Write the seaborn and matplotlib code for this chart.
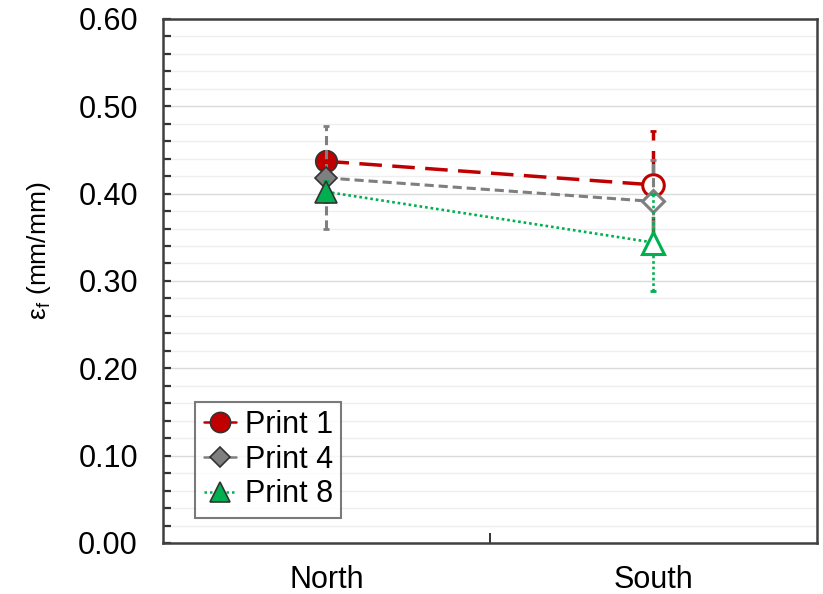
import numpy as np
import pandas as pd
import matplotlib
matplotlib.use("Agg")
import matplotlib.pyplot as plt
from matplotlib.lines import Line2D
import seaborn as sns

# ---- data ----
locations = ["North", "South"]
series_names = ["Print 1", "Print 4", "Print 8"]
print1_mean = [0.437, 0.410]
print1_err = [0.012, 0.062]
print4_mean = [0.418, 0.391]
print4_err = [0.059, 0.048]
print8_mean = [0.402, 0.344]
print8_err = [0.012, 0.056]
y_ticks = [0.00, 0.10, 0.20, 0.30, 0.40, 0.50, 0.60]

sns.set_theme(style="white")
plt.rcParams["font.family"] = ["Liberation Sans", "DejaVu Sans"]
plt.rcParams["mathtext.fontset"] = "custom"
plt.rcParams["mathtext.rm"] = "Liberation Sans"
plt.rcParams["text.color"] = "black"
plt.rcParams["axes.labelcolor"] = "black"

fig = plt.figure(figsize=(8.23, 5.94), dpi=100)
ax = fig.add_axes([0.198, 0.0859, 0.7947, 0.8822])

styles = {
    "Print 1": dict(color="#C00000", marker="o", ms=15.5, dash=(6.5, 3), lw=2.5),
    "Print 4": dict(color="#7F7F7F", marker="D", ms=11.5, dash=(3, 1.6), lw=2.2),
    "Print 8": dict(color="#00B050", marker="^", ms=15.5, dash=(1, 1.1), lw=1.9),
}
means = {"Print 1": print1_mean, "Print 4": print4_mean, "Print 8": print8_mean}
errs = {"Print 1": print1_err, "Print 4": print4_err, "Print 8": print8_err}

xpos = np.arange(len(locations))
rows = []
for name in series_names:
    for i, loc in enumerate(locations):
        rows.append(dict(series=name, x=xpos[i], location=loc,
                         value=means[name][i], err=errs[name][i]))
df = pd.DataFrame(rows)

# grid
for yv in np.arange(0.0, 0.6001, 0.02):
    major = abs(round(yv * 10) - yv * 10) < 1e-6
    ax.axhline(yv, color="#DADADA" if major else "#EFEFEF", lw=1.0, zorder=0)

z = 2
for name in series_names:
    st = styles[name]
    sub = df[df.series == name]
    sns.lineplot(data=sub, x="x", y="value", ax=ax, color=st["color"],
                 lw=st["lw"], dashes=False, legend=False, zorder=z, sort=False)
    ax.lines[-1].set_dashes(st["dash"])
    eb = ax.errorbar(sub["x"], sub["value"], yerr=sub["err"], fmt="none",
                     ecolor=st["color"], elinewidth=st["lw"], capsize=2.5,
                     capthick=2, zorder=z)
    eb[2][0].set_linestyle((0, st["dash"]))
    # North: filled, South: hollow
    ax.plot(sub["x"].iloc[[0]], sub["value"].iloc[[0]], linestyle="none",
            marker=st["marker"], ms=st["ms"], mfc=st["color"],
            mec="#333333", mew=1.2, zorder=z + 1)
    ax.plot(sub["x"].iloc[[1]], sub["value"].iloc[[1]], linestyle="none",
            marker=st["marker"], ms=st["ms"], mfc="white",
            mec=st["color"], mew=2.2, zorder=z + 1)
    z += 2

ax.set_xlim(-0.5, 1.5)
ax.set_ylim(0, 0.6)
ax.set_yticks(y_ticks)
ax.set_yticklabels([f"{v:.2f}" for v in y_ticks])
ax.set_yticks(np.arange(0, 0.6001, 0.02), minor=True)
ax.set_xticks(xpos)
ax.set_xticklabels(locations)
ax.set_xticks([0.5], minor=True)
ax.tick_params(axis="y", which="both", direction="in", length=6, width=1.6,
               color="#333333", labelsize=22, pad=18, left=True,
               labelcolor="black")
ax.tick_params(axis="x", which="major", length=0, labelsize=22, pad=16,
               labelcolor="black")
ax.tick_params(axis="x", which="minor", direction="in", length=7, width=1.4,
               color="#333333", bottom=True)
for sp in ax.spines.values():
    sp.set_color("#404040")
    sp.set_linewidth(1.8)
    sp.set_visible(True)

ax.set_xlabel("")
ax.set_ylabel("ε$_\\mathregular{f}$ (mm/mm)", fontsize=19)
ax.yaxis.set_label_coords(-0.168, 0.557)

handles = []
for name in series_names:
    st = styles[name]
    handles.append(Line2D([], [], color=st["color"], lw=1.8,
                          ls="-" if name != "Print 8" else (0, (1, 1.2)),
                          marker=st["marker"], ms=st["ms"] - 1,
                          mfc=st["color"], mec="#333333", mew=1.2))
leg = ax.legend(handles, series_names, loc="lower left",
                bbox_to_anchor=(0.049, 0.048), borderaxespad=0,
                fontsize=22, frameon=True, fancybox=False, handlelength=1.05,
                handletextpad=0.3, borderpad=0.28, labelspacing=0.15)
leg.get_frame().set_edgecolor("#595959")
leg.get_frame().set_linewidth(1.5)

fig.savefig("out.png", dpi=100)
